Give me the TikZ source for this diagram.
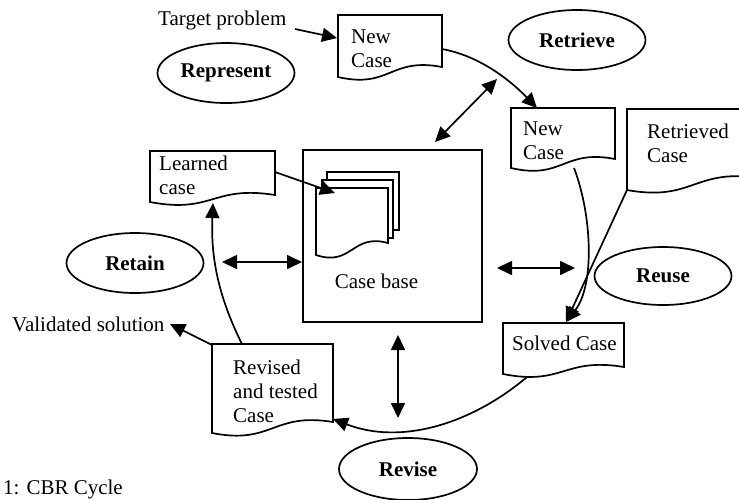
\documentclass[tikz,border=0pt]{standalone}
\usepackage{fontspec}
\setmainfont{Liberation Serif}
\usetikzlibrary{shapes.geometric,arrows.meta}
\newcommand\docpath[5]{\draw[docl] (#1,#2) -- (#3,#2) -- (#3,#4) .. controls ({(#1+#3)/2},{#4-10}) and ({(#1+#3)/2},{#5+12}) .. (#1,#5) -- cycle;}
\begin{document}
\begin{tikzpicture}[x=1pt,y=-1pt,
 lw/.style={line width=1.7pt},
 docl/.style={lw, fill=white, line join=miter},
 arr/.style={lw, -{Triangle[length=15pt,width=14pt]}},
 darr/.style={lw, {Triangle[length=15pt,width=14pt]}-{Triangle[length=15pt,width=14pt]}},
 phase/.style={ellipse, draw, lw, minimum width=137pt, minimum height=60pt, inner sep=0pt, font=\fontsize{21}{24}\selectfont\bfseries},
 lbl/.style={inner sep=0pt, font=\fontsize{21}{24}\selectfont, align=left},
]
\useasboundingbox (0,0) rectangle (739,499);
\clip (0,0) rectangle (739,499);

% phase ellipses
\node[phase] (represent) at (226,73) {Represent};
\node[phase] (retrieve) at (577,40) {Retrieve};
\node[phase] (retain) at (135,263) {Retain};
\node[phase, minimum height=58pt] (reuse) at (663,276) {Reuse};
\node[phase, minimum width=138pt, minimum height=62pt] (revise) at (408,469) {Revise};

% case base
\node[draw, lw, minimum width=179pt, minimum height=172pt, inner sep=0pt] (cb) at (392.5,236) {};
\draw[lw, fill=white] (327,172) rectangle (399,230);
\draw[lw, fill=white] (322,180) rectangle (393,238);
\docpath{316}{188}{388}{243}{255}
\coordinate (stack) at (335,193);
\node[lbl, anchor=base] (cbt) at (376.5,288) {Case base};

% documents
\docpath{338}{15}{442}{67}{77}
\node[lbl, anchor=north west] (new1) at (351,30) {New\\Case};
\docpath{511}{108}{615}{159}{168}
\node[lbl, anchor=north west] (new2) at (523,122) {New\\Case};
\docpath{627}{109}{760}{178}{190}
\node[lbl, anchor=north west] (retr) at (647,124) {Retrieved\\Case};
\docpath{503}{323}{624}{367}{374}
\node[lbl, anchor=base west] (solved) at (512,350) {Solved Case};
\docpath{212}{344}{333}{422}{433}
\node[lbl, anchor=north west] (revised) at (233,360) {Revised\\and tested\\Case};
\docpath{150}{151}{275}{195}{202}
\node[lbl, anchor=north west] (learned) at (159,156) {Learned\\case};

% free labels
\node[lbl, anchor=base west] (tp) at (158,25) {Target problem};
\node[lbl, anchor=base west] (vs) at (12,331) {Validated solution};
\node[lbl, anchor=base west] (cap) at (3,494) {1: CBR Cycle};

% connector end points
\coordinate (tp-e) at (295,29);
\coordinate (new1-w) at (337,38);
\coordinate (new1-e) at (442,49);
\coordinate (new2-n) at (537,108);
\coordinate (new2-s) at (574,168);
\coordinate (retr-sw) at (627,190);
\coordinate (solved-n) at (566,322);
\coordinate (solved-s) at (527,377);
\coordinate (rev-e) at (333,419);
\coordinate (rev-n) at (242,344);
\coordinate (rev-nw) at (212,345);
\coordinate (learned-s) at (213,203);
\coordinate (learned-e) at (275,172);
\coordinate (vs-e) at (170,324);
\coordinate (cb-ne) at (435,142);
\coordinate (retr-link) at (497,79);
\coordinate (cb-e) at (497,268);
\coordinate (reuse-w) at (575,268);
\coordinate (cb-s) at (398,335);
\coordinate (revise-n) at (398,418);
\coordinate (retain-e) at (222,262);
\coordinate (cb-w) at (302,262);

% connectors
\draw[arr] (tp-e) -- (new1-w);
\draw[arr] (new1-e) .. controls (475,55) and (505,75) .. (new2-n);
\draw[darr] (retr-link) -- (cb-ne);
\draw[arr] (new2-s) .. controls (592,215) and (595,285) .. (solved-n);
\draw[arr] (retr-sw) -- (solved-n);
\draw[darr] (cb-e) -- (reuse-w);
\draw[darr] (cb-s) -- (revise-n);
\draw[arr] (solved-s) .. controls (470,425) and (400,445) .. (rev-e);
\draw[arr] (rev-n) .. controls (215,290) and (211,250) .. (learned-s);
\draw[darr] (retain-e) -- (cb-w);
\draw[arr] (rev-nw) -- (vs-e);
\draw[arr] (learned-e) -- (stack);
\end{tikzpicture}
\end{document}
